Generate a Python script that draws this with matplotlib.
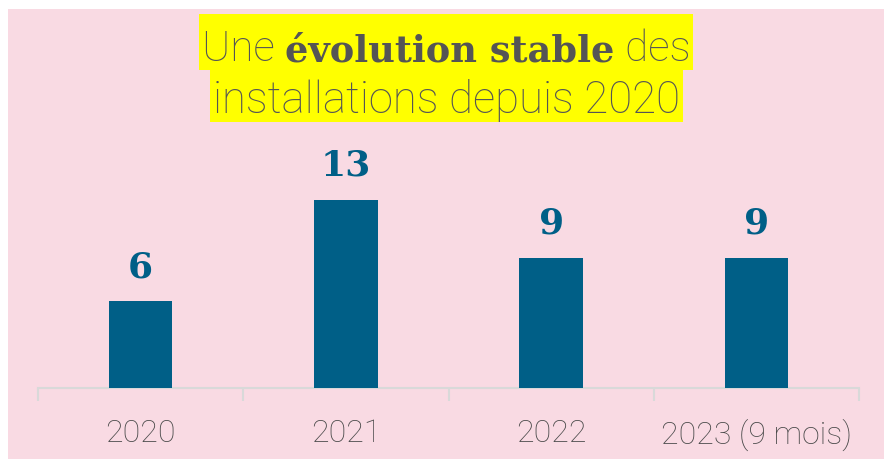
import matplotlib.pyplot as plt
from matplotlib.patches import Rectangle

# données
annees = ['2020', '2021', '2022', '2023 (9 mois)']
installations = [6, 13, 9, 9]

rose = '#f9dae3'
bleu = '#005f87'
gris = '#555555'

fig = plt.figure(figsize=(8.84, 4.6), dpi=100, facecolor='white')
# fond rose (marge blanche en haut et à gauche)
fig.patches.append(Rectangle((8 / 884, 0), 1, 1 - 10 / 460, transform=fig.transFigure,
                             facecolor=rose, edgecolor='none', zorder=0))

ax = fig.add_axes([38 / 884, 71 / 460, 821 / 884, 0.62], zorder=2)
ax.set_facecolor('none')
x = range(len(annees))
barres = ax.bar(x, installations, width=0.31, color=bleu, zorder=3)
ax.set_xlim(-0.5, len(annees) - 0.5)
ax.set_ylim(0, 0.62 * 460 / 14.46)

for b, v in zip(barres, installations):
    ax.annotate(str(v), (b.get_x() + b.get_width() / 2, v), xytext=(0, 13),
                textcoords='offset points', ha='center', va='bottom',
                fontsize=26, fontweight='bold', family='DejaVu Serif', color=bleu)

for s in ['top', 'right', 'left']:
    ax.spines[s].set_visible(False)
ax.spines['bottom'].set_color('#d9d9d9')
ax.spines['bottom'].set_linewidth(1.5)
ax.set_yticks([])
ax.set_xticks([i - 0.5 for i in range(len(annees) + 1)])
ax.set_xticklabels([])
ax.tick_params(axis='x', length=9, width=1.5, color='#d9d9d9')
for i, a in enumerate(annees):
    ax.text(i, -0.105, a, transform=ax.get_xaxis_transform(), ha='center', va='top',
            fontsize=23, family='Roboto', fontweight='light', color='#4a4a4a')

# titre en deux lignes, surligné en jaune
fig.canvas.draw()
r = fig.canvas.get_renderer()
morceaux = [('Une ', 'light', 'Roboto', 30.5), ('évolution stable', 'bold', 'DejaVu Serif', 26.5),
            (' des', 'light', 'Roboto', 30.5)]
objs = []
xx = 0
for txt, w, fam, fs in morceaux:
    t = fig.text(xx, 1 - 61 / 460, txt, fontsize=fs, fontweight=w, family=fam,
                 color=gris, va='baseline', ha='left', zorder=5)
    objs.append(t)
    xx += t.get_window_extent(r).width / fig.bbox.width
dep = 0.5 - xx / 2 + 0.005
for t in objs:
    t.set_x(t.get_position()[0] + dep)
t2 = fig.text(0.5 + 0.005, 1 - 113 / 460, 'installations depuis 2020', fontsize=31.5,
              fontweight='light', family='Roboto', color=gris, ha='center',
              va='baseline', zorder=5)
fig.canvas.draw()
W, H = fig.bbox.width, fig.bbox.height
x0 = objs[0].get_window_extent(r).x0
x1 = objs[-1].get_window_extent(r).x1
fig.patches.append(Rectangle(((x0 - 3) / W, 1 - 71 / 460), (x1 - x0 + 6) / W, 56 / 460,
                             transform=fig.transFigure, facecolor='#ffff00',
                             edgecolor='none', zorder=1))
e = t2.get_window_extent(r)
fig.patches.append(Rectangle(((e.x0 - 3) / W, 1 - 123 / 460), (e.width + 6) / W, 52 / 460,
                             transform=fig.transFigure, facecolor='#ffff00',
                             edgecolor='none', zorder=1))

fig.savefig('out.png', dpi=100, facecolor='white')
